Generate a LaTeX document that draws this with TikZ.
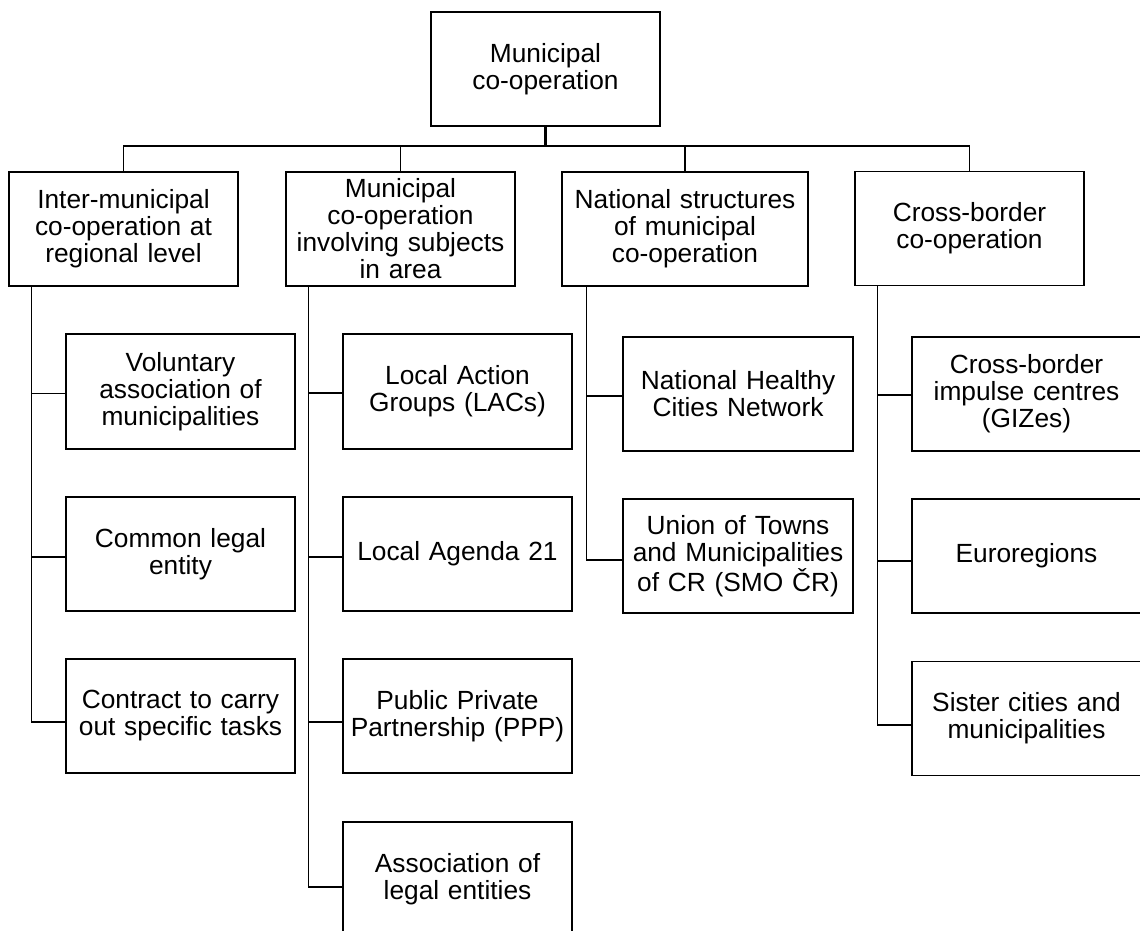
\documentclass[tikz,border=0pt]{standalone}
\usepackage{fontspec}
\setmainfont{Liberation Sans}
\begin{document}
\begin{tikzpicture}[x=1pt,y=-1pt,
  box/.style={draw=black,line width=1.2pt,fill=white,inner sep=0pt,align=center,
    text width=#1,minimum width=#1,minimum height=114pt,
    font=\fontsize{26.3pt}{27pt}\selectfont},
  box/.default=229pt,
  conn/.style={line width=1.3pt,draw=black},
  stem/.style={line width=2.6pt,draw=black}]
\useasboundingbox (0,0) rectangle (1140,931);
\clip (0,0) rectangle (1140,931);
% root
\node[box] (root) at (545.5,69) {Municipal\\co-operation};
% level 1
\node[box] (A) at (123.5,229) {Inter-municipal\\co-operation at\\regional level};
\node[box] (B) at (400.5,229) {Municipal\\co-operation\\involving subjects\\in area};
\node[box=246pt] (C) at (685,229) {National structures\\of municipal\\co-operation};
\node[box] (D) at (969.5,228.5) {Cross-border\\co-operation};
% column 1
\node[box,minimum height=115pt] (c11) at (180.5,391.5) {Voluntary\\association of\\municipalities};
\node[box] (c12) at (180.5,554) {Common legal\\entity};
\node[box] (c13) at (180.5,716) {Contract to carry\\out specific tasks};
% column 2
\node[box,minimum height=115pt] (c21) at (457.5,391.5) {Local Action\\Groups (LACs)};
\node[box] (c22) at (457.5,554) {Local Agenda 21};
\node[box] (c23) at (457.5,716) {Public Private\\Partnership (PPP)};
\node[box] (c24) at (457.5,879) {Association of\\legal entities};
% column 3
\node[box=230pt] (c31) at (738,394) {National Healthy\\Cities Network};
\node[box=230pt] (c32) at (738,556) {Union of Towns\\and Municipalities\\of CR (SMO ČR)};
% column 4
\node[box] (c41) at (1026.5,394) {Cross-border\\impulse centres\\(GIZes)};
\node[box] (c42) at (1026.5,556) {Euroregions};
\node[box] (c43) at (1026.5,718.5) {Sister cities and\\municipalities};
% top connectors
\coordinate (bar) at (545.5,146);
\draw[stem] (root.south) -- (root.south |- bar);
\draw[conn] (A.north) -- (A.north |- bar) -- (D.north |- bar) -- (D.north);
\draw[conn] (B.north) -- (B.north |- bar);
\draw[conn] (C.north) -- (C.north |- bar);
% spines
\coordinate (s1) at ([xshift=23pt]A.south west);
\coordinate (s2) at ([xshift=23pt]B.south west);
\coordinate (s3) at ([xshift=25pt]C.south west);
\coordinate (s4) at ([xshift=23pt]D.south west);
\draw[conn] (s1) |- ([yshift=-6pt]c13.west);
\draw[conn] ([yshift=-2pt]c11.west) -- ([yshift=-2pt]c11.west -| s1);
\draw[conn] ([yshift=-3pt]c12.west) -- ([yshift=-3pt]c12.west -| s1);
\draw[conn] (s2) |- ([yshift=-8pt]c24.west);
\draw[conn] ([yshift=-1.5pt]c21.west) -- ([yshift=-1.5pt]c21.west -| s2);
\draw[conn] ([yshift=-3pt]c22.west) -- ([yshift=-3pt]c22.west -| s2);
\draw[conn] ([yshift=-6pt]c23.west) -- ([yshift=-6pt]c23.west -| s2);
\draw[conn] (s3) |- ([yshift=-4pt]c32.west);
\draw[conn] ([yshift=-2pt]c31.west) -- ([yshift=-2pt]c31.west -| s3);
\draw[conn] (s4) |- ([yshift=-6.5pt]c43.west);
\draw[conn] ([yshift=-1pt]c41.west) -- ([yshift=-1pt]c41.west -| s4);
\draw[conn] ([yshift=-5pt]c42.west) -- ([yshift=-5pt]c42.west -| s4);
\end{tikzpicture}
\end{document}
